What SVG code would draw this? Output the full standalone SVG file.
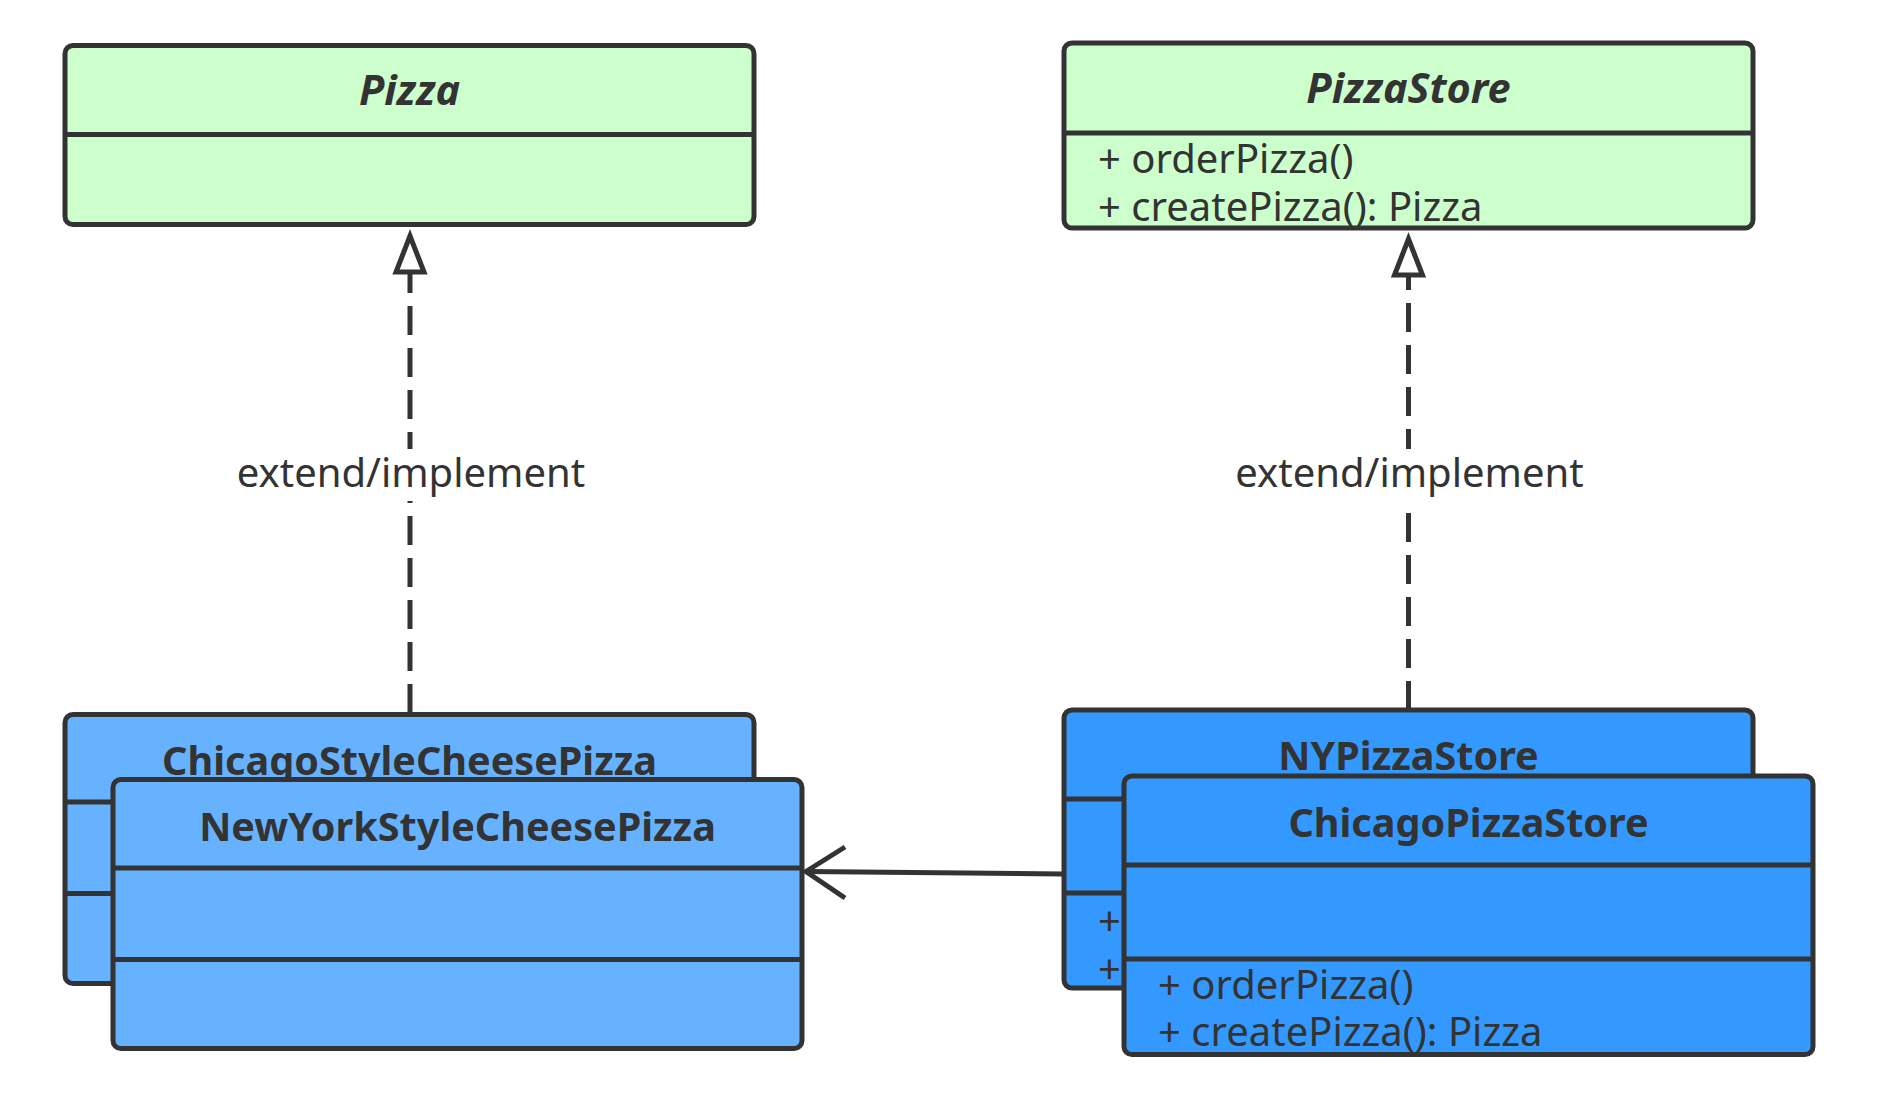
<svg xmlns="http://www.w3.org/2000/svg" width="1883" height="1104" viewBox="0 0 1883 1104">
  <style>
    .box { stroke: #333333; stroke-width: 5; }
    .green { fill: #ccffcc; }
    .lblue { fill: #66b2ff; }
    .dblue { fill: #3399ff; }
    .div { stroke: #333333; stroke-width: 5; fill: none; }
    .title { font-family: "Noto Sans", "Open Sans", sans-serif; font-weight: bold; font-size: 39.6px; fill: #333333; text-anchor: middle; }
    .ital { font-style: italic; font-size: 41.5px; }
    .mem { font-family: "Noto Sans", "Open Sans", sans-serif; font-size: 40px; fill: #333333; }
    .lbl { font-family: "Noto Sans", "Open Sans", sans-serif; font-size: 40px; fill: #333333; text-anchor: middle; }
    .conn { stroke: #333333; stroke-width: 5; fill: none; }
    .dash { stroke-dasharray: 29 13; }
    .tri { stroke: #333333; stroke-width: 5; fill: #ffffff; stroke-linejoin: miter; }
  </style>

  <g id="connectors">
    <path class="conn dash" d="M410,713 L410,272"/>
    <polygon class="tri" points="410,236 396,272 424,272"/>
    <rect x="236" y="449" width="348" height="52" fill="#ffffff"/>
    <text class="lbl" x="411" y="487">extend/implement</text>

    <path class="conn dash" d="M1408.5,710 L1408.5,275"/>
    <polygon class="tri" points="1408.5,239 1394.5,275 1422.5,275"/>
    <rect x="1234" y="449" width="348" height="52" fill="#ffffff"/>
    <text class="lbl" x="1409.5" y="487">extend/implement</text>
  </g>

  <g id="Pizza">
    <rect class="box green" x="65" y="45.5" width="689" height="179" rx="8"/>
    <line class="div" x1="65" y1="134.5" x2="754" y2="134.5"/>
    <text class="title ital" x="409.5" y="105">Pizza</text>
  </g>

  <g id="PizzaStore">
    <rect class="box green" x="1064" y="43" width="689" height="185" rx="8"/>
    <line class="div" x1="1064" y1="133" x2="1753" y2="133"/>
    <text class="title ital" x="1408.5" y="103">PizzaStore</text>
    <text class="mem" x="1098" y="172.5" xml:space="preserve">+ orderPizza()</text>
    <text class="mem" x="1098" y="220.5" xml:space="preserve">+ createPizza(): Pizza</text>
  </g>

  <g id="ChicagoStyleCheesePizza">
    <rect class="box lblue" x="65" y="714.5" width="689" height="269" rx="8"/>
    <line class="div" x1="65" y1="802" x2="754" y2="802"/>
    <line class="div" x1="65" y1="893.5" x2="754" y2="893.5"/>
    <text class="title" x="409.5" y="774.5">ChicagoStyleCheesePizza</text>
  </g>

  <g id="NewYorkStyleCheesePizza">
    <rect class="box lblue" x="113" y="779.5" width="689" height="269" rx="8"/>
    <line class="div" x1="113" y1="868" x2="802" y2="868"/>
    <line class="div" x1="113" y1="959.5" x2="802" y2="959.5"/>
    <text class="title" x="457.5" y="840.5">NewYorkStyleCheesePizza</text>
  </g>

  <g id="NYPizzaStore">
    <rect class="box dblue" x="1064" y="710" width="689" height="278" rx="8"/>
    <line class="div" x1="1064" y1="799" x2="1753" y2="799"/>
    <line class="div" x1="1064" y1="893" x2="1753" y2="893"/>
    <text class="title" x="1408.5" y="770">NYPizzaStore</text>
    <text class="mem" x="1098" y="935" xml:space="preserve">+ orderPizza()</text>
    <text class="mem" x="1098" y="983" xml:space="preserve">+ createPizza(): Pizza</text>
  </g>

  <g id="association">
    <path class="conn" d="M1062,874 L806,871.5"/>
    <path class="conn" d="M845,847 L806,871.5 L845,898" stroke-linejoin="miter"/>
  </g>

  <g id="ChicagoPizzaStore">
    <rect class="box dblue" x="1124" y="776" width="689" height="278.5" rx="8"/>
    <line class="div" x1="1124" y1="865" x2="1813" y2="865"/>
    <line class="div" x1="1124" y1="959" x2="1813" y2="959"/>
    <text class="title" x="1468.5" y="836.5">ChicagoPizzaStore</text>
    <text class="mem" x="1158" y="998.5" xml:space="preserve">+ orderPizza()</text>
    <text class="mem" x="1158" y="1045.5" xml:space="preserve">+ createPizza(): Pizza</text>
  </g>
</svg>
